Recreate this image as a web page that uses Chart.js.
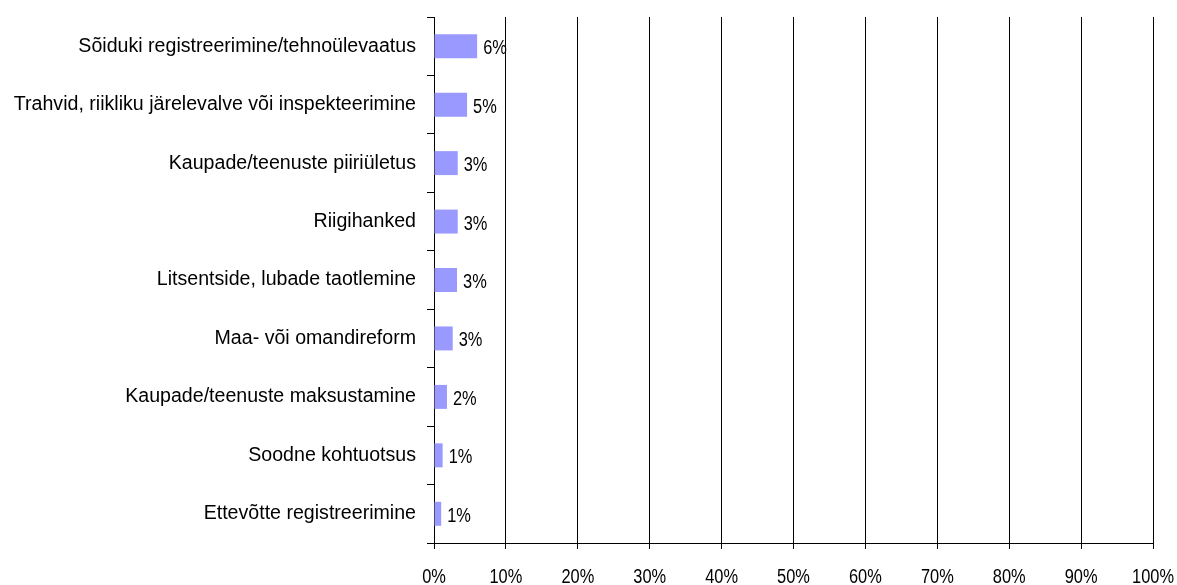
<!DOCTYPE html>
<html>
<head>
<meta charset="utf-8">
<script src="https://cdn.jsdelivr.net/npm/chart.js@4"></script>
<style>
html,body{margin:0;padding:0;background:#fff;}
#wrap{width:1177px;height:585px;position:relative;}
</style>
</head>
<body>
<div id="wrap"><canvas id="c" width="1177" height="585"></canvas></div>
<script>
const categories = [
  "Sõiduki registreerimine/tehnoülevaatus",
  "Trahvid, riikliku järelevalve või inspekteerimine",
  "Kaupade/teenuste piiriületus",
  "Riigihanked",
  "Litsentside, lubade taotlemine",
  "Maa- või omandireform",
  "Kaupade/teenuste maksustamine",
  "Soodne kohtuotsus",
  "Ettevõtte registreerimine"
];
const values = [6.0, 4.6, 3.3, 3.3, 3.2, 2.6, 1.8, 1.2, 1.0];
const valueLabels = ["6%", "5%", "3%", "3%", "3%", "3%", "2%", "1%", "1%"];
const xTickValues = [0, 10, 20, 30, 40, 50, 60, 70, 80, 90, 100];
const xTickLabels = ["0%", "10%", "20%", "30%", "40%", "50%", "60%", "70%", "80%", "90%", "100%"];

const FONT = "'Liberation Sans', Arial, sans-serif";
const SQUEEZE = 0.8;

function narrowText(ctx, text, x, y, align) {
  ctx.save();
  ctx.translate(x, y);
  ctx.scale(SQUEEZE, 1);
  ctx.textAlign = align;
  ctx.fillText(text, 0, 0);
  ctx.restore();
}

const labelPlugin = {
  id: 'valueLabels',
  afterDraw(chart) {
    const ctx = chart.ctx;
    const meta = chart.getDatasetMeta(0);
    ctx.save();
    ctx.font = "20.5px " + FONT;
    ctx.fillStyle = "#000";
    ctx.textBaseline = "alphabetic";
    meta.data.forEach((bar, i) => {
      narrowText(ctx, valueLabels[i], bar.x + 6, bar.y + 8, 'left');
    });
    const xs = chart.scales.x;
    xTickValues.forEach((v, i) => {
      narrowText(ctx, xTickLabels[i], xs.getPixelForValue(v), 583, 'center');
    });
    ctx.restore();
  }
};

new Chart(document.getElementById('c'), {
  type: 'bar',
  data: {
    labels: categories,
    datasets: [{
      data: values,
      backgroundColor: '#9999FF',
      borderWidth: 0,
      barPercentage: 0.82,
      categoryPercentage: 0.5
    }]
  },
  options: {
    indexAxis: 'y',
    responsive: false,
    animation: false,
    layout: { padding: { top: 17, right: 24, left: 0, bottom: 0 } },
    plugins: { legend: { display: false }, tooltip: { enabled: false } },
    scales: {
      x: {
        min: 0, max: 100,
        afterBuildTicks(scale) { scale.ticks = xTickValues.map(v => ({ value: v })); },
        ticks: { display: false },
        grid: {
          color: '#000',
          lineWidth: 1,
          tickLength: 6,
          drawTicks: true
        },
        border: { color: '#000', width: 1 },
        afterFit(scale) { scale.height = 42; scale.paddingLeft = 0; scale.paddingRight = 0; }
      },
      y: {
        ticks: {
          color: '#000',
          font: { size: 19.6, family: FONT },
          padding: 11
        },
        grid: {
          offset: true,
          drawOnChartArea: false,
          color: '#000',
          tickLength: 7
        },
        border: { color: '#000', width: 1 },
        afterFit(scale) { scale.width = 434; scale.paddingTop = 0; scale.paddingBottom = 0; }
      }
    }
  },
  plugins: [labelPlugin]
});
</script>
</body>
</html>
